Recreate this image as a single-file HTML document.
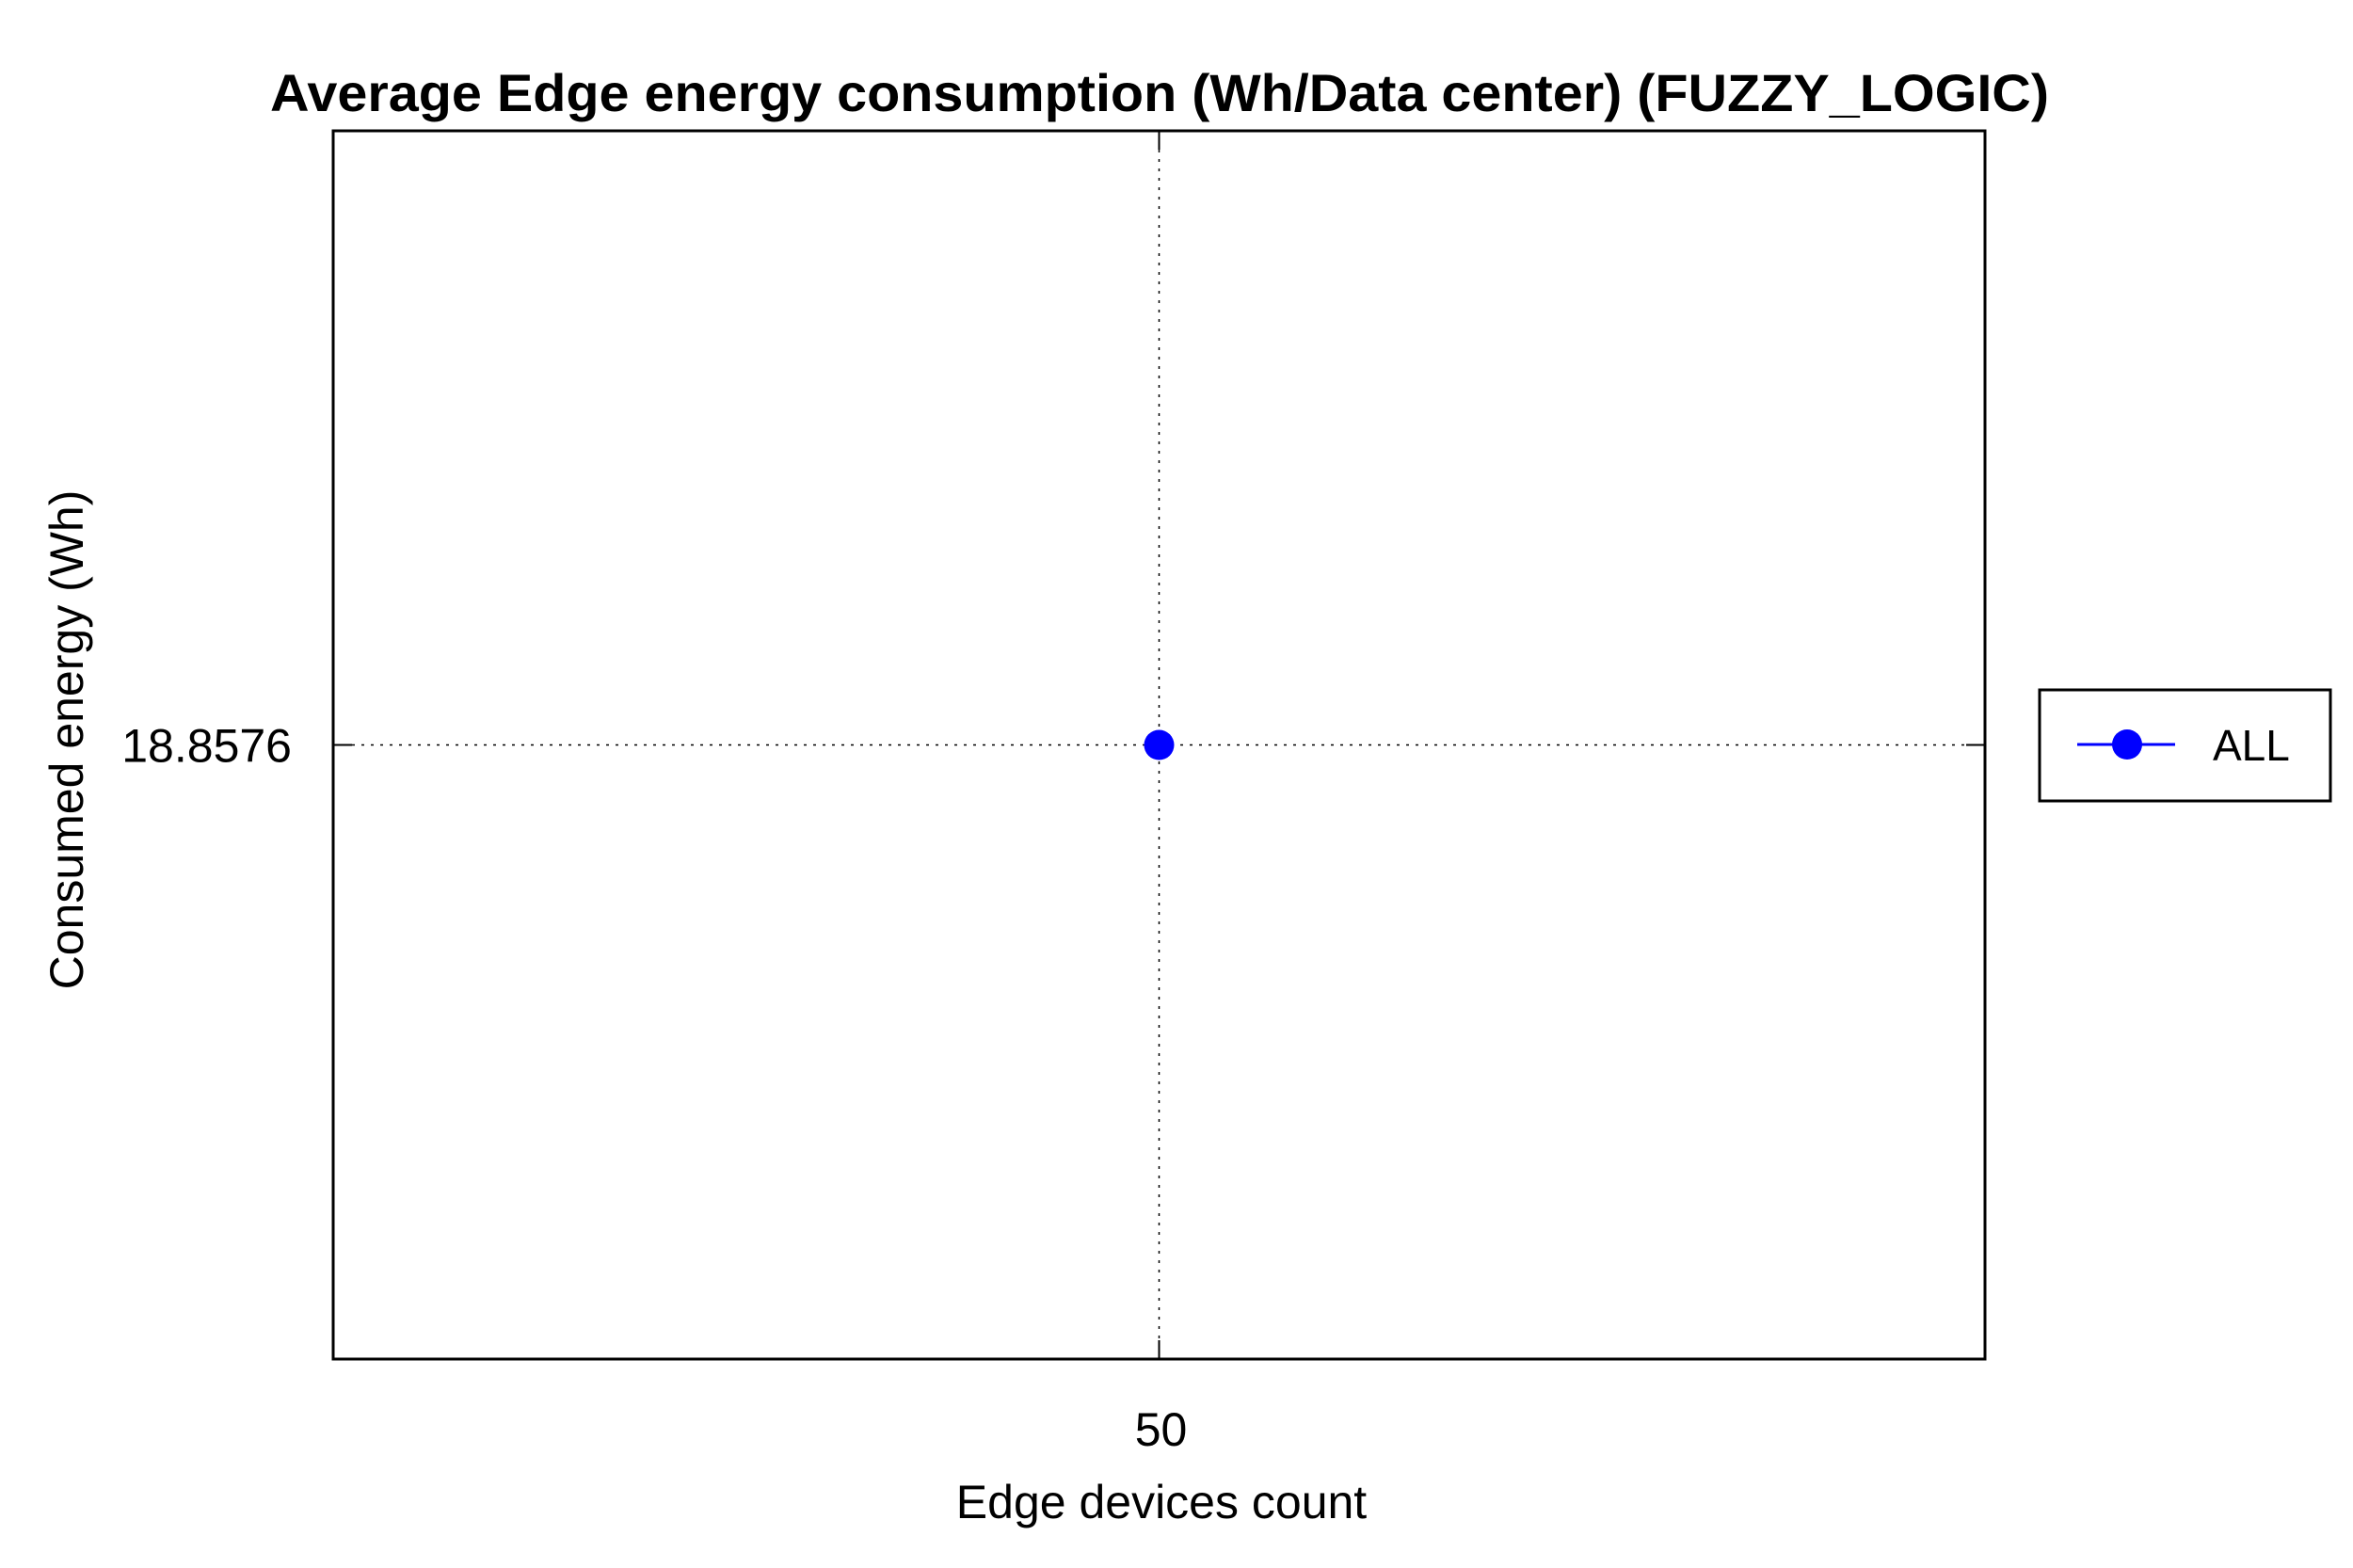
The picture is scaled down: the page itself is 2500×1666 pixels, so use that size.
<!DOCTYPE html>
<html><head><meta charset="utf-8"><style>body{margin:0;background:#fff}svg{display:block}</style></head>
<body>
<svg id="chart" width="2500" height="1666" viewBox="0 0 2500 1666" font-family="Liberation Sans, Arial, sans-serif">
<rect width="2500" height="1666" fill="#fff"/>
<text x="1232" y="118" text-anchor="middle" font-size="56" font-weight="bold" textLength="1890" lengthAdjust="spacingAndGlyphs">Average Edge energy consumption (Wh/Data center) (FUZZY_LOGIC)</text>
<g id="grid"></g>
<rect x="354" y="139" width="1755" height="1305" fill="none" stroke="#000" stroke-width="3"/>
<g id="marks"></g>
<text x="1234" y="1613" text-anchor="middle" font-size="50">Edge devices count</text>
<text transform="translate(88,786) rotate(-90)" text-anchor="middle" font-size="50">Consumed energy (Wh)</text>
<g>
<rect x="2167" y="733" width="309" height="118" fill="#fff" stroke="#000" stroke-width="3"/>
<line x1="2207" y1="791" x2="2311" y2="791" stroke="#00f" stroke-width="3"/>
<circle cx="2260" cy="791" r="16" fill="#00f"/>
<text x="2351" y="808" font-size="46">ALL</text>
</g>
</svg>
<script>
const categories = [50];
const seriesAll = [18.8576];
const yTickLabels = ["18.8576"];
const xTickLabels = ["50"];
const ns = "http://www.w3.org/2000/svg";
const L = 354, R = 2109, T = 139, B = 1444;
const xMin = 49, xMax = 51;
const yMin = seriesAll[0] - 1, yMax = seriesAll[0] + 1;
function xs(v){ return L + (v - xMin) / (xMax - xMin) * (R - L); }
function ys(v){ return B - (v - yMin) / (yMax - yMin) * (B - T); }
const grid = document.getElementById('grid');
const marks = document.getElementById('marks');
function mk(tag, attrs, parent){ const e = document.createElementNS(ns, tag); for (const k in attrs) e.setAttribute(k, attrs[k]); parent.appendChild(e); return e; }
categories.forEach((c, i) => {
  const x = xs(c);
  const g = mk('line', {x1:x, y1:T, x2:x, y2:B, stroke:'#000', 'stroke-width':1.5, 'stroke-dasharray':'3 7'}, grid);
  
  
  mk('line', {x1:x, y1:B, x2:x, y2:B-20, stroke:'#000', 'stroke-width':2}, grid);
  mk('line', {x1:x, y1:T, x2:x, y2:T+20, stroke:'#000', 'stroke-width':2}, grid);
  const t = mk('text', {x:x+2, y:1536, 'text-anchor':'middle', 'font-size':50}, grid);
  t.textContent = xTickLabels[i];
  
  
});
seriesAll.forEach((v, i) => {
  const y = ys(v);
  const g = mk('line', {x1:L, y1:y, x2:R, y2:y, stroke:'#000', 'stroke-width':1.5, 'stroke-dasharray':'3 7'}, grid);
  
  
  mk('line', {x1:L, y1:y, x2:L+20, y2:y, stroke:'#000', 'stroke-width':2}, grid);
  mk('line', {x1:R, y1:y, x2:R-20, y2:y, stroke:'#000', 'stroke-width':2}, grid);
  const t = mk('text', {x:310, y:y+18, 'text-anchor':'end', 'font-size':50}, grid);
  t.textContent = yTickLabels[i];
  
  
  const p = mk('circle', {cx:xs(categories[i]), cy:y, r:16, fill:'#00f'}, marks);
  
  
});
</script>
</body></html>
